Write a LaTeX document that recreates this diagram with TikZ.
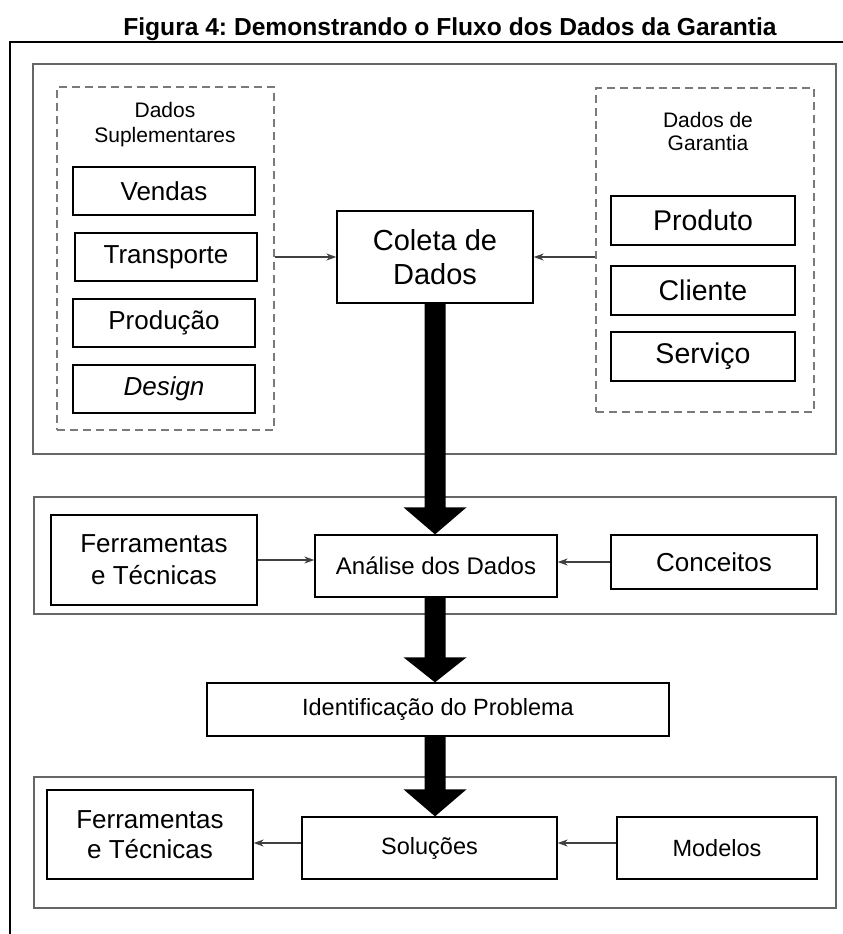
\documentclass[tikz,border=0pt]{standalone}
\usepackage{fontspec}
\setmainfont{Liberation Sans}
\usetikzlibrary{arrows.meta,calc}
\definecolor{panelgray}{HTML}{666666}
\definecolor{dashgray}{HTML}{7A7A7A}
\definecolor{arrowgray}{HTML}{404040}
\newcommand{\myfs}[2]{\fontsize{#1}{#2}\selectfont}
\frenchspacing
\begin{document}
\begin{tikzpicture}[x=1pt,y=-1pt,
  box/.style={draw=black, line width=1.3pt, fill=white, inner sep=0pt, align=center},
  panel/.style={draw=panelgray, line width=1.8pt, inner sep=0pt},
  dashbox/.style={draw=dashgray, line width=1.4pt, dash pattern=on 8pt off 5pt, inner sep=0pt},
  lbl/.style={align=center, inner sep=0pt},
  smallarrow/.style={draw=arrowgray, line width=1.3pt, -{Stealth[length=10pt,width=7pt]}},
  bigfill/.style={fill=black}
]
\useasboundingbox (0,0) rectangle (843,934);

% title
\node[anchor=base, inner sep=0pt, font=\bfseries\myfs{24.6}{30}] (title) at (450,36)
  {Figura 4: Demonstrando o Fluxo dos Dados da Garantia};

% outer frame (open at right and bottom)
\draw[line width=2pt] (10,934) -- (10,42) -- (843,42);

% panels
\node[panel, minimum width=803pt, minimum height=390pt] (p1) at (434.5,259) {};
\node[panel, minimum width=802pt, minimum height=117pt] (p2) at (435,555.5) {};
\node[panel, minimum width=802pt, minimum height=131pt] (p3) at (435,842.5) {};

% dashed groups
\node[dashbox, minimum width=217pt, minimum height=343pt] (supbox) at (165.5,258.5) {};
\node[dashbox, minimum width=218pt, minimum height=324pt] (garbox) at (705,250) {};

\node[lbl, font=\myfs{21}{25}] (suplbl) at (165,125) {Dados\\Suplementares};
\node[lbl, font=\myfs{21}{23}] (garlbl) at (708,131) {Dados de\\Garantia};

% supplementary boxes
\node[box, minimum width=182pt, minimum height=48pt, font=\myfs{26}{30}] (vendas) at (164,191) {Vendas};
\node[box, minimum width=182pt, minimum height=48pt, font=\myfs{26}{30}] (transp) at (166,257) {Transporte};
\node[box, minimum width=182pt, minimum height=48pt, font=\myfs{26}{30}] (prod) at (164,323) {Produção};
\node[box, minimum width=182pt, minimum height=48pt, font=\itshape\myfs{26}{30}] (design) at (164,389) {Design};

% warranty boxes
\node[box, minimum width=184pt, minimum height=49pt, font=\myfs{28.5}{32}] (produto) at (703,220.5) {Produto};
\node[box, minimum width=184pt, minimum height=49pt, font=\myfs{28.5}{32}] (cliente) at (703,290.5) {Cliente};
\node[box, minimum width=184pt, minimum height=49pt, font=\myfs{28.5}{32}] (servico) at (703,356.5) {Serviço};

% central
\node[box, minimum width=196pt, minimum height=92pt, font=\myfs{29}{34}] (coleta) at (435,257) {Coleta de\\Dados};

\node[box, minimum width=206pt, minimum height=90pt, font=\myfs{26}{32}] (ferr1) at (154,560) {Ferramentas\\e Técnicas};
\node[box, minimum width=242pt, minimum height=62pt, font=\myfs{24}{28}] (analise) at (436,566) {Análise dos Dados};
\node[box, minimum width=206pt, minimum height=54pt, font=\myfs{26}{30}] (conc) at (714,562) {Conceitos};

\node[box, minimum width=462pt, minimum height=53pt, font=\myfs{23.5}{28}] (ident) at (438,709.5) {Identificação do Problema};

\node[box, minimum width=206pt, minimum height=89pt, font=\myfs{26}{30}] (ferr2) at (150,834.5) {Ferramentas\\e Técnicas};
\node[box, minimum width=255pt, minimum height=62pt, font=\myfs{23.5}{28}] (sol) at (429.5,848) {Soluções};
\node[box, minimum width=200pt, minimum height=62pt, font=\myfs{23.5}{28}] (mod) at (717,848) {Modelos};

% small arrows
\draw[smallarrow] (coleta.west -| supbox.east) -- (coleta.west);
\draw[smallarrow] (coleta.east -| garbox.west) -- (coleta.east);
\draw[smallarrow] (ferr1.east) -- (ferr1.east -| analise.west);
\draw[smallarrow] (conc.west) -- (conc.west -| analise.east);
\draw[smallarrow] ([yshift=5pt]sol.west) -- ([yshift=5pt]sol.west -| ferr2.east);
\draw[smallarrow] ([yshift=5pt]mod.west) -- ([yshift=5pt]mod.west -| sol.east);

% big arrows
\fill[bigfill] let \p1=(coleta.south), \p2=(coleta.south |- analise.north) in
  (\x1-10.5pt,\y1) -- (\x1-10.5pt,\y2+27pt) -- (\x1-31.5pt,\y2+27pt) -- (\x1,\y2)
  -- (\x1+31.5pt,\y2+27pt) -- (\x1+10.5pt,\y2+27pt) -- (\x1+10.5pt,\y1) -- cycle;
\fill[bigfill] let \p1=(coleta.south |- analise.south), \p2=(coleta.south |- ident.north) in
  (\x1-10.5pt,\y1) -- (\x1-10.5pt,\y2+25pt) -- (\x1-31.5pt,\y2+25pt) -- (\x1,\y2)
  -- (\x1+31.5pt,\y2+25pt) -- (\x1+10.5pt,\y2+25pt) -- (\x1+10.5pt,\y1) -- cycle;
\fill[bigfill] let \p1=(coleta.south |- ident.south), \p2=(coleta.south |- sol.north) in
  (\x1-10.5pt,\y1) -- (\x1-10.5pt,\y2+27pt) -- (\x1-31.5pt,\y2+27pt) -- (\x1,\y2)
  -- (\x1+31.5pt,\y2+27pt) -- (\x1+10.5pt,\y2+27pt) -- (\x1+10.5pt,\y1) -- cycle;
\end{tikzpicture}
\end{document}
